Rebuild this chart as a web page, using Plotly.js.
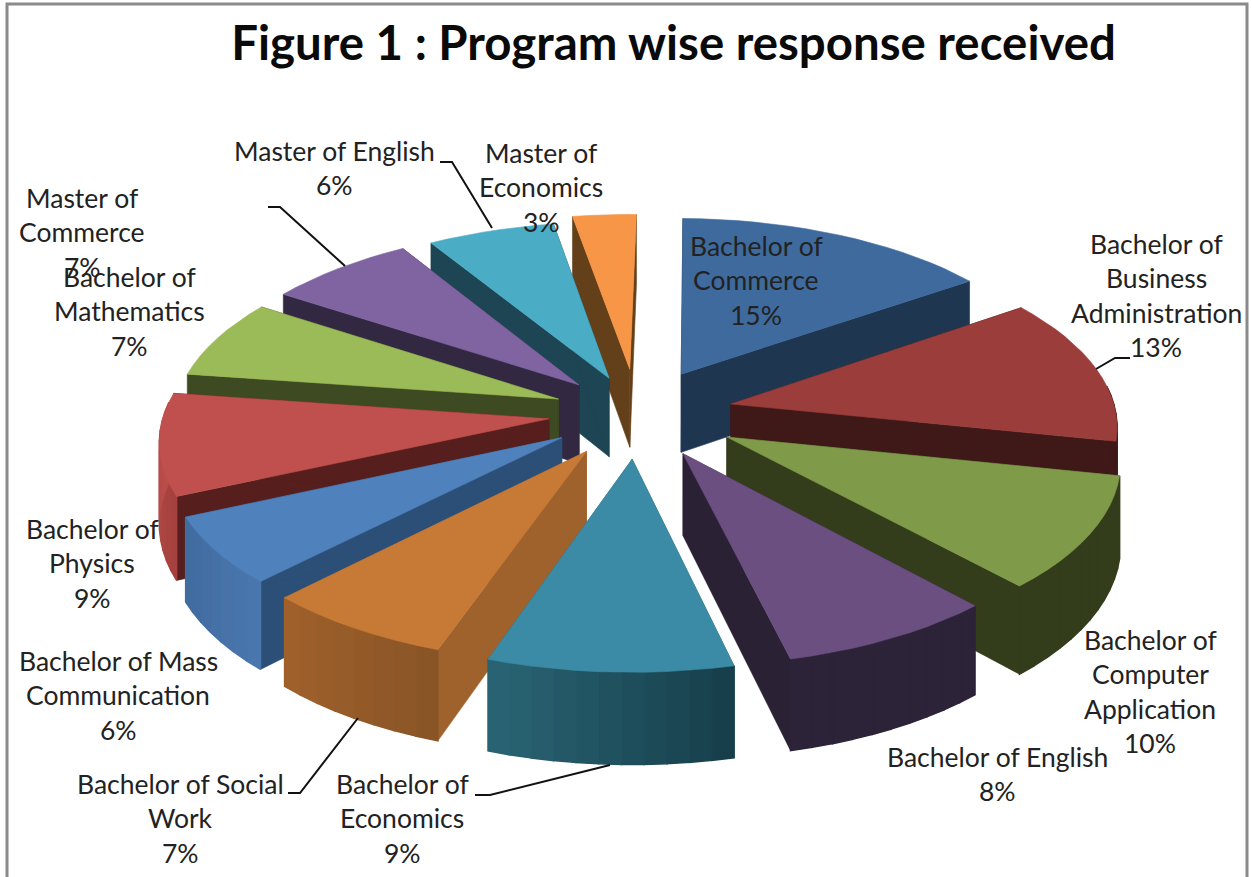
<!DOCTYPE html>
<html><head><meta charset="utf-8">
<script src="https://cdn.plot.ly/plotly-3.0.1.min.js"></script>
<style>html,body{margin:0;padding:0;background:#fff}#chart{width:1252px;height:877px}</style>
</head><body><div id="chart"></div>
<script>
const categories = ["Bachelor of Commerce","Bachelor of Business Administration","Bachelor of Computer Application","Bachelor of English","Bachelor of Economics","Bachelor of Social Work","Bachelor of Mass Communication","Bachelor of Physics","Bachelor of Mathematics","Master of Commerce","Master of English","Master of Economics"];
const shares = [15,13,10,8,9,7,6,9,7,7,6,3];
const labelLines = [["Bachelor of","Commerce"],["Bachelor of","Business","Administration"],["Bachelor of","Computer","Application"],["Bachelor of English"],["Bachelor of","Economics"],["Bachelor of Social","Work"],["Bachelor of Mass","Communication"],["Bachelor of","Physics"],["Bachelor of","Mathematics"],["Master of","Commerce"],["Master of English"],["Master of","Economics"]];
const labelX = [756,1156,1150,997,402,180,118,92,129,82,334,541];
const labelY = [246,244,640,757,784,784,661,529,277,198,151,153];
const topColors = ["#3E6A9E","#9A3D3B","#7F9A48","#6A4F80","#3C8BA6","#C77A35","#4F81BD","#C0504D","#9BBB59","#8064A2","#4BACC6","#F79646"];
const sideColors = ["#1F3651","#3F1918","#333D1B","#2A2135","#2A6475","#A0622C","#2C4F77","#561F1E","#3E4A21","#322842","#1D4553","#64401A"];
const wallFrom = ["#1F3651","#3F1918","#333D1B","#2D2338","#2B6777","#A2622C","#3F6A9E","#C0504D","#3E4A21","#322842","#1D4553","#64401A"];
const wallTo = ["#1F3651","#3F1918","#333D1B","#2D2338","#173F4B","#8A5526","#4A76AE","#A5413E","#3E4A21","#322842","#1D4553","#64401A"];
const explode = [0.25,0.25,0.265,0.25,0.25,0.245,0.235,0.23,0.22,0.22,0.21,0.25];

const CX=637, CY=413, AX=385, AY=180, PERSP=0.106, DEPTH=80, ROT=Math.PI/180;
const total = shares.reduce((a,b)=>a+b,0);
function proj(u,v,down){const s=1/(1-PERSP*v);return [CX+AX*u*s, CY+AY*v*s+(down?DEPTH*s:0)];}
function hex(c){return [1,3,5].map(i=>parseInt(c.substr(i,2),16));}
function mix(a,b,t){const A=hex(a),B=hex(b);return "rgb("+A.map((x,i)=>Math.round(x+(B[i]-x)*t)).join(",")+")";}
function poly(pts,color,name,w){return {type:"scatter",mode:"lines",x:pts.map(p=>p[0]).concat(pts[0][0]),y:pts.map(p=>p[1]).concat(pts[0][1]),fill:"toself",fillcolor:color,line:{color:color,width:w},hoverinfo:"name",name:name,showlegend:false};}

let cum=0;
const slices = shares.map((val,i)=>{
  const a0=ROT+cum/total*2*Math.PI; cum+=val; const a1=ROT+cum/total*2*Math.PI;
  const mid=(a0+a1)/2, ou=explode[i]*Math.sin(mid), ov=-explode[i]*Math.cos(mid);
  return {i,a0,a1,ou,ov,depth:-Math.cos(mid)};
}).sort((p,q)=>p.depth-q.depth);

const traces=[];
slices.forEach(s=>{
  const pt=(a)=>[s.ou+Math.sin(a), s.ov-Math.cos(a)];
  const n=Math.max(3,Math.round((s.a1-s.a0)/(Math.PI/60)));
  const name=categories[s.i]+" "+shares[s.i]+"%";
  const edge=(a,down)=>{const p=pt(a);return proj(p[0],p[1],down);};
  const apexT=proj(s.ou,s.ov,false), apexB=proj(s.ou,s.ov,true);
  traces.push(poly([apexT,edge(s.a0,false),edge(s.a0,true),apexB],sideColors[s.i],name,0.6));
  traces.push(poly([apexT,edge(s.a1,false),edge(s.a1,true),apexB],sideColors[s.i],name,0.6));
  for(let k=0;k<n;k++){
    const a=s.a0+(s.a1-s.a0)*k/n,b=s.a0+(s.a1-s.a0)*(k+1)/n;
    if(-Math.cos((a+b)/2)<-0.1) continue;
    traces.push(poly([edge(a,false),edge(b,false),edge(b,true),edge(a,true)],mix(wallTo[s.i],wallFrom[s.i],k/n),name,1.5));
  }
  const top=[apexT];
  for(let k=0;k<=n;k++) top.push(edge(s.a0+(s.a1-s.a0)*k/n,false));
  traces.push(poly(top,topColors[s.i],name,0.6));
});

const annotations=[];
const LINE=34.4;
labelLines.forEach((lines,i)=>{
  lines.concat(shares[i]+"%").forEach((t,k)=>{
    annotations.push({x:labelX[i],y:labelY[i]+k*LINE,xref:"x",yref:"y",text:t,showarrow:false,xanchor:"center",yanchor:"middle",font:{family:"Lato, Carlito, sans-serif",size:26.5,color:"#222"}});
  });
});

const leader=(d)=>({type:"path",path:d,line:{color:"#111",width:2},xref:"x",yref:"y",layer:"above"});
const shapes=[
 {type:"path",xref:"x",yref:"y",path:"M7,877 L7,4 L1247,4 L1247,877",line:{color:"#8a8a8a",width:3},layer:"below"},
 leader("M268,207 L280,207 L345,266"),
 leader("M440,162 L452,162 L492,228"),
 leader("M475,795 L490,795 L610,765"),
 leader("M288,793 L300,793 L358,718"),
 leader("M1096,369 L1115,358 L1130,358")
];

const layout={width:1252,height:877,margin:{l:0,r:0,t:0,b:0},paper_bgcolor:"#fff",plot_bgcolor:"#fff",showlegend:false,
 title:{text:"<b>Figure 1 : Program wise response received</b>",x:0.538,xanchor:"center",xref:"paper",yref:"container",y:0.951,yanchor:"middle",font:{family:"Lato, Carlito, sans-serif",size:47.4,color:"#0a0a0a"}},
 xaxis:{range:[0,1252],visible:false,fixedrange:true},
 yaxis:{range:[877,0],visible:false,fixedrange:true},
 annotations,shapes};
Plotly.newPlot("chart",traces,layout,{displayModeBar:false,staticPlot:true});
</script></body></html>
